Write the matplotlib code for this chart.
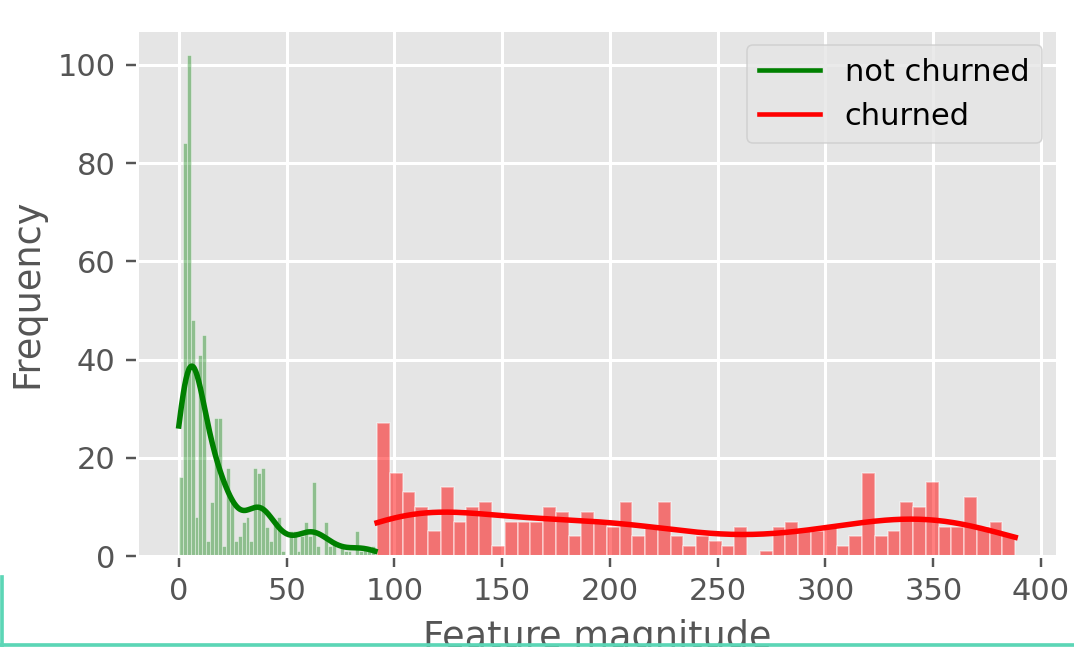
import numpy as np
import matplotlib
matplotlib.use("Agg")
import matplotlib.pyplot as plt
from matplotlib.lines import Line2D

# ---------------- data ----------------
not_churned_counts = [16, 84, 102, 48, 8, 41, 45, 3, 11, 28,
                      28, 2, 18, 12, 3, 4, 7, 8, 3, 18,
                      17, 18, 6, 3, 7, 8, 1, 0, 5, 5,
                      1, 4, 7, 4, 15, 2, 0, 7, 2, 3,
                      0, 2, 1, 1, 0, 5, 1, 2, 2, 2]
not_churned_range = (0.0, 91.0)

churned_counts = [27, 17, 13, 10, 5, 14, 7, 10, 11, 2,
                  7, 7, 7, 10, 9, 4, 9, 7, 6, 11,
                  4, 6, 11, 4, 2, 4, 3, 2, 6, 0,
                  1, 6, 7, 5, 5, 6, 2, 4, 17, 4,
                  5, 11, 10, 15, 6, 6, 12, 6, 7, 4]
churned_range = (92.0, 388.0)

series_labels = ["not churned", "churned"]
series_colors = ["green", "red"]
x_ticks = [0, 50, 100, 150, 200, 250, 300, 350, 400]
y_ticks = [0, 20, 40, 60, 80, 100]
x_label = "Feature magnitude"
y_label = "Frequency"

# ---------------- figure ----------------
plt.style.use("ggplot")
DPI = 220
W, H = 1074, 647
fig = plt.figure(figsize=(W / DPI, H / DPI), dpi=DPI)
ax = fig.add_axes([137 / W, 1 - 556 / H, (1057 - 137) / W, (556 - 30) / H])


def kde_curve(counts, rng):
    counts = np.asarray(counts, dtype=float)
    edges = np.linspace(rng[0], rng[1], len(counts) + 1)
    centers = 0.5 * (edges[:-1] + edges[1:])
    binw = edges[1] - edges[0]
    n = counts.sum()
    w = counts / n
    mean = np.sum(w * centers)
    var = np.sum(w * (centers - mean) ** 2) * n / (n - 1)
    bw = np.sqrt(var) * n ** (-1 / 5)
    grid = np.linspace(rng[0], rng[1], 300)
    dens = (w[None, :] * np.exp(-0.5 * ((grid[:, None] - centers[None, :]) / bw) ** 2)).sum(axis=1)
    dens /= bw * np.sqrt(2 * np.pi)
    return edges, binw, grid, dens * n * binw


handles = []
for counts, rng, color, label, alpha, elw in [
    (not_churned_counts, not_churned_range, series_colors[0], series_labels[0], 0.38, 0.25),
    (churned_counts, churned_range, series_colors[1], series_labels[1], 0.5, 0.5),
]:
    edges, binw, grid, curve = kde_curve(counts, rng)
    fc = matplotlib.colors.to_rgba(color, alpha)
    ax.bar(edges[:-1], counts, width=binw, align="edge",
           color=fc, edgecolor=(1, 1, 1, 0.5), linewidth=elw)
    ax.plot(grid, curve, color=color, lw=1.8)
    handles.append(Line2D([], [], color=color, lw=1.5, label=label))

ax.set_xticks(x_ticks)
ax.set_yticks(y_ticks)
ax.set_xlabel(x_label)
ax.set_ylabel(y_label)
ax.grid(True, color="white", linewidth=1.0)
ax.legend(handles=handles, loc="upper right")

# thin teal screenshot border seen in the reference
fig.add_artist(Line2D([0.0015, 0.0015], [0, 1 - 577 / H], color="#5cd6b6",
                      lw=1.2, transform=fig.transFigure))
fig.add_artist(Line2D([0, 1], [0.003, 0.003], color="#5cd6b6",
                      lw=1.2, transform=fig.transFigure))

fig.savefig("out.png", dpi=DPI)
